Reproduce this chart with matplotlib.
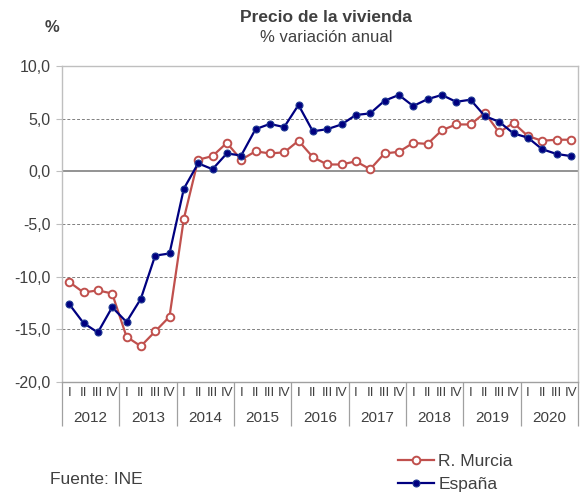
import matplotlib
matplotlib.use("Agg")
import matplotlib.pyplot as plt
import matplotlib.transforms as mtransforms
import numpy as np

plt.rcParams['font.family'] = ['Liberation Sans', 'DejaVu Sans']

years = ["2012", "2013", "2014", "2015", "2016", "2017", "2018", "2019", "2020"]
quarters = ["I", "II", "III", "IV"]

murcia = [-10.5, -11.5, -11.3, -11.6,
          -15.7, -16.6, -15.2, -13.8,
          -4.5, 1.1, 1.45, 2.7,
          1.1, 1.9, 1.7, 1.8,
          2.9, 1.35, 0.65, 0.65,
          0.95, 0.2, 1.7, 1.85,
          2.7, 2.6, 3.9, 4.45,
          4.45, 5.55, 3.7, 4.6,
          3.35, 2.9, 3.0, 3.0]

espana = [-12.6, -14.4, -15.3, -12.9,
          -14.3, -12.1, -8.0, -7.8,
          -1.65, 0.76, 0.2, 1.7,
          1.5, 4.0, 4.5, 4.2,
          6.3, 3.8, 4.0, 4.45,
          5.35, 5.5, 6.7, 7.25,
          6.2, 6.85, 7.25, 6.6,
          6.8, 5.25, 4.7, 3.6,
          3.2, 2.1, 1.65, 1.45]

yticks = [10, 5, 0, -5, -10, -15, -20]
ytick_labels = ["10,0", "5,0", "0,0", "-5,0", "-10,0", "-15,0", "-20,0"]

red = "#C0504D"
blue = "#000080"
txt = "#404040"

fig = plt.figure(figsize=(5.81, 4.93), dpi=100)
ax = fig.add_axes([62/581, 1 - 382/493, 516/581, 316/493])

n = len(murcia)
x = np.arange(n)

ax.plot(x, murcia, color=red, lw=1.6, marker='o', markersize=5.5,
        markerfacecolor='white', markeredgecolor=red, markeredgewidth=1.4,
        label="R. Murcia", zorder=3)
ax.plot(x, espana, color=blue, lw=1.6, marker='o', markersize=5,
        markerfacecolor=blue, markeredgecolor="#1F3A93", markeredgewidth=0.8,
        label="España", zorder=4)

ax.set_xlim(-0.5, n - 0.5)
ax.set_ylim(-20, 10)

# grid lines
for v in [5, -5, -10, -15]:
    ax.axhline(v, color="#808080", lw=0.7, ls=(0, (3, 2)), zorder=1)
ax.axhline(0, color="#808080", lw=1.2, zorder=2)

for s in ['top', 'right', 'left', 'bottom']:
    ax.spines[s].set_color("#BFBFBF")
    ax.spines[s].set_linewidth(1.0)
ax.spines['bottom'].set_color("#A0A0A0")

ax.set_yticks(yticks)
ax.set_yticklabels(ytick_labels, fontsize=11.5, color=txt)
ax.tick_params(axis='y', length=4, color="#BFBFBF", pad=4)

# x: year separators as long major ticks, quarter labels as minor ticks
ax.set_xticks(np.arange(-0.5, n, 4))
ax.set_xticklabels([])
ax.tick_params(axis='x', which='major', length=32, color="#A0A0A0", width=0.9)
ax.set_xticks(x, minor=True)
ax.set_xticklabels([quarters[i % 4] for i in x], minor=True, fontsize=9.5, color=txt)
ax.tick_params(axis='x', which='minor', length=0, pad=3.5)

trans = mtransforms.blended_transform_factory(ax.transData, fig.transFigure)
for i, yr in enumerate(years):
    ax.text(i * 4 + 1.5, 1 - 418/493, yr, transform=trans, ha='center', va='center',
            fontsize=11, color=txt)

fig.text(326/581, 1 - 17/493, "Precio de la vivienda", ha='center', va='center',
         fontsize=12.5, fontweight='bold', color=txt)
fig.text(326/581, 1 - 38/493, "% variación anual", ha='center', va='center',
         fontsize=12, color=txt)
fig.text(52/581, 1 - 28/493, "%", ha='center', va='center',
         fontsize=12, fontweight='bold', color=txt)
fig.text(50/581, 1 - 479/493, "Fuente: INE", ha='left', va='center',
         fontsize=12.5, color=txt)

leg = fig.legend(loc='center left', bbox_to_anchor=(389/581, 1 - 473/493),
                 frameon=False, fontsize=12.5, handlelength=2.1, handletextpad=0.25,
                 labelspacing=0.5, borderpad=0)
for t in leg.get_texts():
    t.set_color(txt)

fig.savefig("out.png", dpi=100)
